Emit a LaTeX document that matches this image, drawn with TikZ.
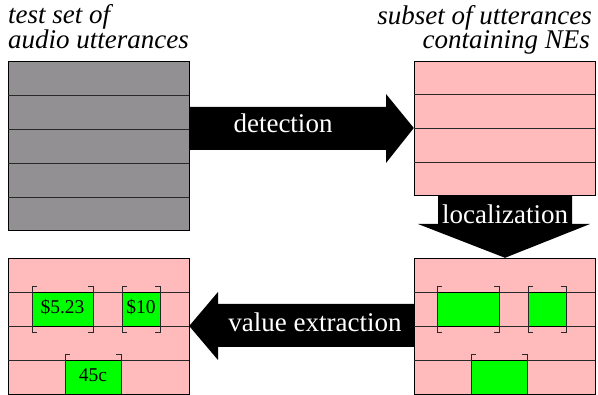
\documentclass[tikz,border=0pt]{standalone}
\usepackage{fontspec}
\setmainfont{Liberation Serif}
\definecolor{grayfill}{RGB}{146,144,146}
\definecolor{pinkfill}{RGB}{255,187,187}
\definecolor{greenfill}{RGB}{0,255,0}
\definecolor{rowline}{RGB}{40,40,40}
\tikzset{
  setbox/.style={draw=black, line width=0.9pt, inner sep=0pt, outer sep=0pt},
  rowsep/.style={draw=rowline, line width=0.9pt},
  hitbox/.style={draw=black, fill=greenfill, line width=0.9pt},
  bracket/.style={draw=rowline, line width=0.9pt},
  blockarrow/.style={fill=black, draw=none},
  arrowtext/.style={text=white, font=\fontsize{27}{27}\selectfont, anchor=base, inner sep=0pt},
  titletext/.style={font=\fontsize{27}{23}\selectfont\itshape, inner sep=0pt},
  valtext/.style={font=\fontsize{19.5}{19.5}\selectfont, anchor=base, inner sep=0pt},
}
\begin{document}
\begin{tikzpicture}[x=1pt,y=-1pt]
\useasboundingbox (0,0) rectangle (598,395);

% titles
\node[titletext, anchor=base west, align=left] (tl) at (8,49) {test set of\\audio utterances};
\node[titletext, anchor=base east, align=right] (tr) at (592,49) {subset of utterances\\containing NEs\kern2pt};

% boxes
\path[setbox, fill=grayfill] (8,61) rectangle (189,230);
\node[inner sep=0pt, minimum width=181pt, minimum height=169pt] (A) at (98.5,145.5) {};
\foreach \yy in {95,129,163,197} \draw[rowsep] (8,\yy) -- (189,\yy);

\path[setbox, fill=pinkfill] (414,61) rectangle (595,195);
\node[inner sep=0pt, minimum width=181pt, minimum height=134pt] (B) at (504.5,128) {};
\foreach \yy in {94,128,162} \draw[rowsep] (414,\yy) -- (595,\yy);

\path[setbox, fill=pinkfill] (414,258) rectangle (595,394);
\node[inner sep=0pt, minimum width=181pt, minimum height=136pt] (C) at (504.5,326) {};
\foreach \yy in {292,326,360} \draw[rowsep] (414,\yy) -- (595,\yy);

\path[setbox, fill=pinkfill] (8,258) rectangle (189,394);
\node[inner sep=0pt, minimum width=181pt, minimum height=136pt] (D) at (98.5,326) {};
\foreach \yy in {292,326,360} \draw[rowsep] (8,\yy) -- (189,\yy);

% green regions, right box
\draw[hitbox] (437,292) rectangle (499,326);
\draw[hitbox] (528,292) rectangle (566,326);
\draw[hitbox] (471,360) rectangle (527,394);
% green regions, left box
\draw[hitbox] (32,292) rectangle (93,326);
\draw[hitbox] (122,292) rectangle (160,326);
\draw[hitbox] (65,360) rectangle (121,394);

% brackets
\foreach \xa/\xb in {437/499,528/566,32/93,122/160}{
  \draw[bracket] (\xa+5,286) -- (\xa,286) -- (\xa,332) -- (\xa+5,332);
  \draw[bracket] (\xb-5,286) -- (\xb,286) -- (\xb,332) -- (\xb-5,332);
}
\foreach \xa/\xb in {471/527,65/121}{
  \draw[bracket] (\xa+5,354) -- (\xa,354) -- (\xa,394);
  \draw[bracket] (\xb-5,354) -- (\xb,354) -- (\xb,394);
}

% values
\node[valtext] (v1) at (62.5,314) {\$5.23};
\node[valtext] (v2) at (141,314) {\$10};
\node[valtext] (v3) at (93,382) {45c};

% detection arrow
\fill[blockarrow] (A.east |- 0,107) -- (386,107) -- (386,94) -- (B.west |- 0,128) -- (386,163) -- (386,150) -- (A.east |- 0,150) -- cycle;
\node[arrowtext] (det) at (283,133) {detection};

% localization arrow
\fill[blockarrow] (438,0 |- B.south) -- (572,0 |- B.south) -- (572,224) -- (590,224) -- (505,0 |- C.north) -- (418,224) -- (438,224) -- cycle;
\node[arrowtext] (loc) at (505,224) {localization};

% value extraction arrow
\fill[blockarrow] (C.west |- 0,304) -- (218,304) -- (218,292) -- (D.east |- 0,326) -- (218,360) -- (218,347) -- (C.west |- 0,347) -- cycle;
\node[arrowtext] (val) at (315,332) {value extraction};
\end{tikzpicture}
\end{document}
